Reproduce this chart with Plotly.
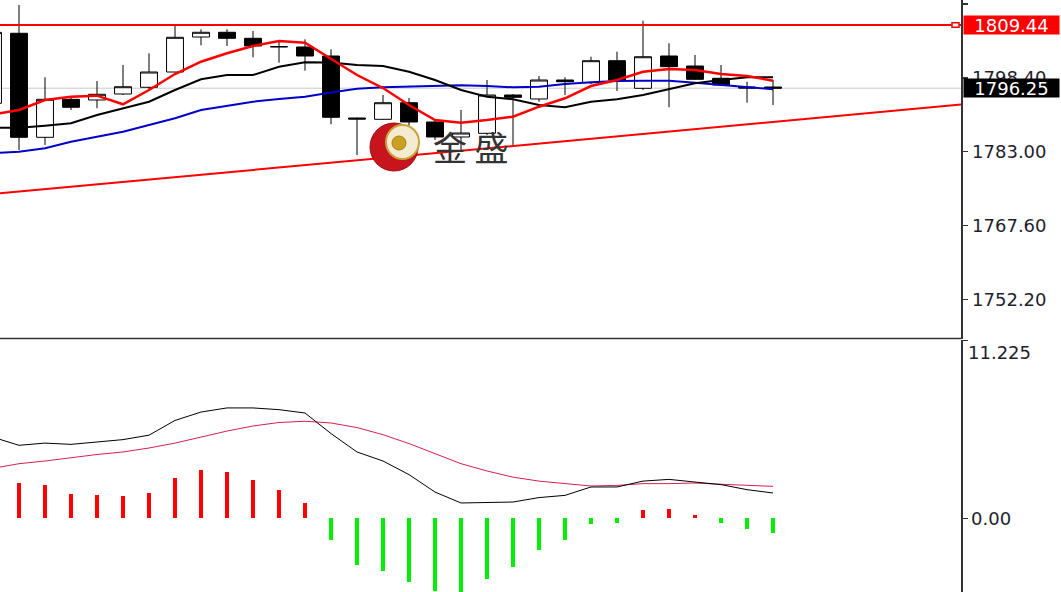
import plotly.graph_objects as go

W, H = 1061, 592
PLOT_R = 961  # px, right edge of plotting area

# ---------------- data ----------------
candle_idx = list(range(-1, 30))
opens = [1793.10, 1807.71, 1786.00, 1793.93, 1793.79, 1795.04, 1796.44, 1799.63, 1806.93, 1807.92,
         1806.66, 1804.95, 1804.85, 1802.97, 1790.03, 1789.76, 1793.22, 1789.20, 1786.07, 1786.84,
         1794.83, 1794.00, 1797.96, 1797.40, 1801.99, 1796.23, 1802.97, 1800.88, 1798.32, 1796.50, 1796.50]
highs = [1808.20, 1813.61, 1798.53, 1794.41, 1797.75, 1801.09, 1803.53, 1809.44, 1808.54, 1808.54,
         1808.19, 1805.95, 1806.45, 1804.37, 1790.14, 1794.83, 1794.21, 1789.61, 1791.70, 1797.96,
         1795.04, 1798.80, 1798.53, 1802.82, 1803.87, 1810.34, 1805.62, 1803.18, 1801.09, 1797.61, 1797.96]
lows = [1792.60, 1783.35, 1784.40, 1791.70, 1792.06, 1794.83, 1796.02, 1799.53, 1805.20, 1805.06,
        1802.70, 1801.57, 1799.90, 1788.72, 1782.31, 1789.61, 1788.36, 1785.44, 1783.35, 1786.48,
        1784.40, 1793.43, 1794.83, 1797.13, 1795.67, 1795.87, 1792.27, 1797.96, 1796.71, 1793.22, 1792.75]
closes = [1807.90, 1786.00, 1793.93, 1792.27, 1794.98, 1796.56, 1799.63, 1806.87, 1807.92, 1806.66,
          1805.06, 1804.88, 1802.97, 1790.18, 1789.82, 1793.22, 1789.20, 1786.07, 1786.90, 1794.83,
          1794.35, 1797.96, 1797.61, 1801.99, 1797.96, 1802.82, 1800.74, 1798.11, 1796.92, 1796.29, 1796.25]

ma_red = [1790.76, 1791.70, 1793.79, 1794.48, 1794.69, 1792.89, 1795.87, 1799.21, 1801.78, 1803.53,
          1805.06, 1806.10, 1805.75, 1802.34, 1799.00, 1796.29, 1792.75, 1789.61, 1789.05, 1789.61,
          1790.30, 1792.39, 1794.14, 1796.71, 1797.96, 1799.69, 1800.26, 1800.05, 1799.21, 1798.80, 1797.82]
ma_black = [1788.01, 1788.01, 1788.43, 1788.93, 1790.66, 1792.06, 1793.43, 1795.87, 1798.11, 1799.00,
            1799.00, 1800.74, 1801.66, 1801.61, 1801.09, 1800.88, 1799.69, 1797.96, 1795.87, 1794.48,
            1793.93, 1792.75, 1792.27, 1793.43, 1793.93, 1794.83, 1796.02, 1797.27, 1797.96, 1798.53, 1798.53]
ma_blue = [1782.73, 1783.00, 1783.71, 1785.09, 1786.13, 1787.17, 1788.57, 1789.97, 1791.70, 1792.54,
           1793.43, 1794.00, 1794.48, 1795.35, 1796.15, 1796.44, 1796.56, 1796.77, 1796.86, 1796.71,
           1796.44, 1796.56, 1797.13, 1797.48, 1797.75, 1797.82, 1797.82, 1797.40, 1796.92, 1796.44, 1796.02]

macd_line = [5.12, 4.61, 4.75, 4.67, 4.82, 4.97, 5.25, 6.18, 6.71, 6.97,
             6.97, 6.86, 6.65, 5.35, 4.19, 3.62, 2.76, 1.66, 0.97, 1.00,
             1.03, 1.31, 1.45, 1.98, 1.98, 2.35, 2.46, 2.29, 2.13, 1.81, 1.60]
signal_line = [3.16, 3.45, 3.62, 3.83, 4.03, 4.19, 4.44, 4.75, 5.13, 5.51,
               5.83, 6.05, 6.13, 6.02, 5.73, 5.28, 4.72, 4.08, 3.45, 2.99,
               2.60, 2.35, 2.19, 2.04, 2.08, 2.19, 2.19, 2.23, 2.15, 2.08, 2.02]
hist_idx = list(range(0, 30))
hist_vals = [2.25, 2.13, 1.56, 1.50, 1.40, 1.63, 2.57, 3.03, 2.90, 2.40,
             1.77, 1.00, -1.39, -2.92, -3.33, -4.03, -4.60, -5.10, -3.85, -3.08,
             -2.02, -1.35, -0.33, -0.30, 0.50, 0.57, 0.23, -0.30, -0.65, -0.90]

resistance = 1809.44
last_price = 1796.25
trend_idx = [0, 29]
trend_price = [1774.69, 1789.21]

price_ticks = [1813.80, 1798.40, 1783.00, 1767.60, 1752.20]
macd_top_label = 11.225

# ---------------- layout helpers ----------------
X_RANGE = [-0.7308, 36.23]
Y_RANGE = [1744.02, 1814.655]
Y2_RANGE = [-4.65, 11.29]
top_dom = [1 - 338.5 / H, 1.0]
bot_dom = [0.0, 1 - 339.5 / H]
xdom = [0, PLOT_R / W]


def px(x):
    return x / W


def py(y):
    return 1 - y / H


fig = go.Figure()

# trend line (extended across the visible range)
slope = (trend_price[1] - trend_price[0]) / (trend_idx[1] - trend_idx[0])
tx = [X_RANGE[0], X_RANGE[1]]
ty = [trend_price[0] + slope * (v - trend_idx[0]) for v in tx]
fig.add_trace(go.Scatter(x=tx, y=ty, mode="lines", line=dict(color="#ff0000", width=2),
                         xaxis="x", yaxis="y", hoverinfo="skip"))

# moving averages
fig.add_trace(go.Scatter(x=candle_idx, y=ma_blue, mode="lines", line=dict(color="#0000c8", width=2),
                         xaxis="x", yaxis="y", hoverinfo="skip"))
fig.add_trace(go.Scatter(x=candle_idx, y=ma_black, mode="lines", line=dict(color="#000000", width=2),
                         xaxis="x", yaxis="y", hoverinfo="skip"))
fig.add_trace(go.Scatter(x=candle_idx, y=ma_red, mode="lines", line=dict(color="#ff0000", width=2.5),
                         xaxis="x", yaxis="y", hoverinfo="skip"))

# candles
fig.add_trace(go.Candlestick(
    x=candle_idx, open=opens, high=highs, low=lows, close=closes,
    increasing=dict(line=dict(color="#000000", width=1), fillcolor="#ffffff"),
    decreasing=dict(line=dict(color="#000000", width=1), fillcolor="#000000"),
    whiskerwidth=0, xaxis="x", yaxis="y", hoverinfo="skip"))

# MACD histogram
bar_colors = ["#ff0000" if v > 0 else "#00ee00" for v in hist_vals]
fig.add_trace(go.Bar(x=hist_idx, y=hist_vals, marker=dict(color=bar_colors, line=dict(width=0)),
                     width=0.19, xaxis="x2", yaxis="y2", hoverinfo="skip"))
fig.add_trace(go.Scatter(x=candle_idx, y=signal_line, mode="lines", line=dict(color="#d42050", width=1),
                         xaxis="x2", yaxis="y2", hoverinfo="skip"))
fig.add_trace(go.Scatter(x=candle_idx, y=macd_line, mode="lines", line=dict(color="#000000", width=1),
                         xaxis="x2", yaxis="y2", hoverinfo="skip"))

tick_font = dict(family="DejaVu Sans", size=18, color="#1e1e2e")

shapes = [
    # last price line
    dict(type="line", xref="x domain", yref="y", x0=0, x1=1, y0=last_price, y1=last_price,
         line=dict(color="#c8c8c8", width=1), layer="below"),
    # resistance line
    dict(type="line", xref="x domain", yref="y", x0=0, x1=1, y0=resistance, y1=resistance,
         line=dict(color="#ff0000", width=2)),
    dict(type="rect", xref="paper", yref="y", x0=px(952), x1=px(959), y0=resistance - 0.45,
         y1=resistance + 0.45, line=dict(color="#ff0000", width=1.5), fillcolor="#ffffff"),
    # panel separator
    dict(type="line", xref="paper", yref="paper", x0=0, x1=px(PLOT_R), y0=top_dom[0], y1=top_dom[0],
         line=dict(color="#333333", width=1.5)),
    # logo
    dict(type="circle", xref="paper", yref="paper", x0=px(370), x1=px(418), y0=py(171), y1=py(123),
         fillcolor="#c8141c", line=dict(color="#a00c12", width=1), layer="above"),
    dict(type="circle", xref="paper", yref="paper", x0=px(386), x1=px(419), y0=py(159), y1=py(125),
         fillcolor="#f4ecd2", line=dict(color="#c9a43a", width=2), layer="above"),
    dict(type="circle", xref="paper", yref="paper", x0=px(392), x1=px(406), y0=py(150), y1=py(136),
         fillcolor="#c9a020", line=dict(color="#a88010", width=1), layer="above"),
]

annotations = [
    dict(xref="paper", yref="y", x=px(963), y=resistance, xanchor="left", yanchor="middle",
         text="1809.44", showarrow=False, font=dict(family="DejaVu Sans", size=18, color="#ffffff"),
         bgcolor="#ff0000", width=95, height=18, borderpad=0, align="center"),
    dict(xref="paper", yref="y", x=px(963), y=last_price, xanchor="left", yanchor="middle",
         text="1796.25", showarrow=False, font=dict(family="DejaVu Sans", size=18, color="#ffffff"),
         bgcolor="#000000", width=95, height=18, borderpad=0, align="center"),
    dict(xref="paper", yref="paper", x=px(966), y=py(352), xanchor="left", yanchor="middle",
         text=f"{macd_top_label:.3f}", showarrow=False, font=tick_font),
    dict(xref="paper", yref="paper", x=px(471), y=py(146), xanchor="center", yanchor="middle",
         text="金 盛", showarrow=False,
         font=dict(family="Noto Sans CJK SC", size=34, color="#333333")),
]

axis_common = dict(showgrid=False, zeroline=False, automargin=False)

fig.update_layout(
    width=W, height=H,
    margin=dict(l=0, r=0, t=0, b=0, autoexpand=False),
    paper_bgcolor="#ffffff", plot_bgcolor="#ffffff",
    showlegend=False,
    boxgap=0.35,
    boxgroupgap=0,
    bargap=0,
    xaxis=dict(domain=xdom, range=X_RANGE, anchor="y", showticklabels=False, ticks="",
               rangeslider=dict(visible=False), **axis_common),
    yaxis=dict(domain=top_dom, range=Y_RANGE, side="right", anchor="x",
               tickvals=price_ticks, ticktext=[f"{v:.2f}" for v in price_ticks],
               ticks="outside", ticklen=5, tickcolor="#333333", tickwidth=1.5,
               showline=True, linecolor="#333333", linewidth=1.5,
               tickfont=tick_font, ticklabelstandoff=1, **axis_common),
    xaxis2=dict(domain=xdom, range=X_RANGE, anchor="y2", showticklabels=False, ticks="",
                matches="x", **axis_common),
    yaxis2=dict(domain=bot_dom, range=Y2_RANGE, side="right", anchor="x2",
                tickvals=[0, macd_top_label], ticktext=["0.00", ""],
                ticks="outside", ticklen=5, tickcolor="#333333", tickwidth=1.5,
                showline=True, linecolor="#333333", linewidth=1.5,
                tickfont=tick_font, ticklabelstandoff=0, **axis_common),
    shapes=shapes,
    annotations=annotations,
)

fig.write_html("out.html", config={"displayModeBar": False, "staticPlot": True},
               post_script="document.body.style.margin='0';document.body.style.overflow='hidden';")
